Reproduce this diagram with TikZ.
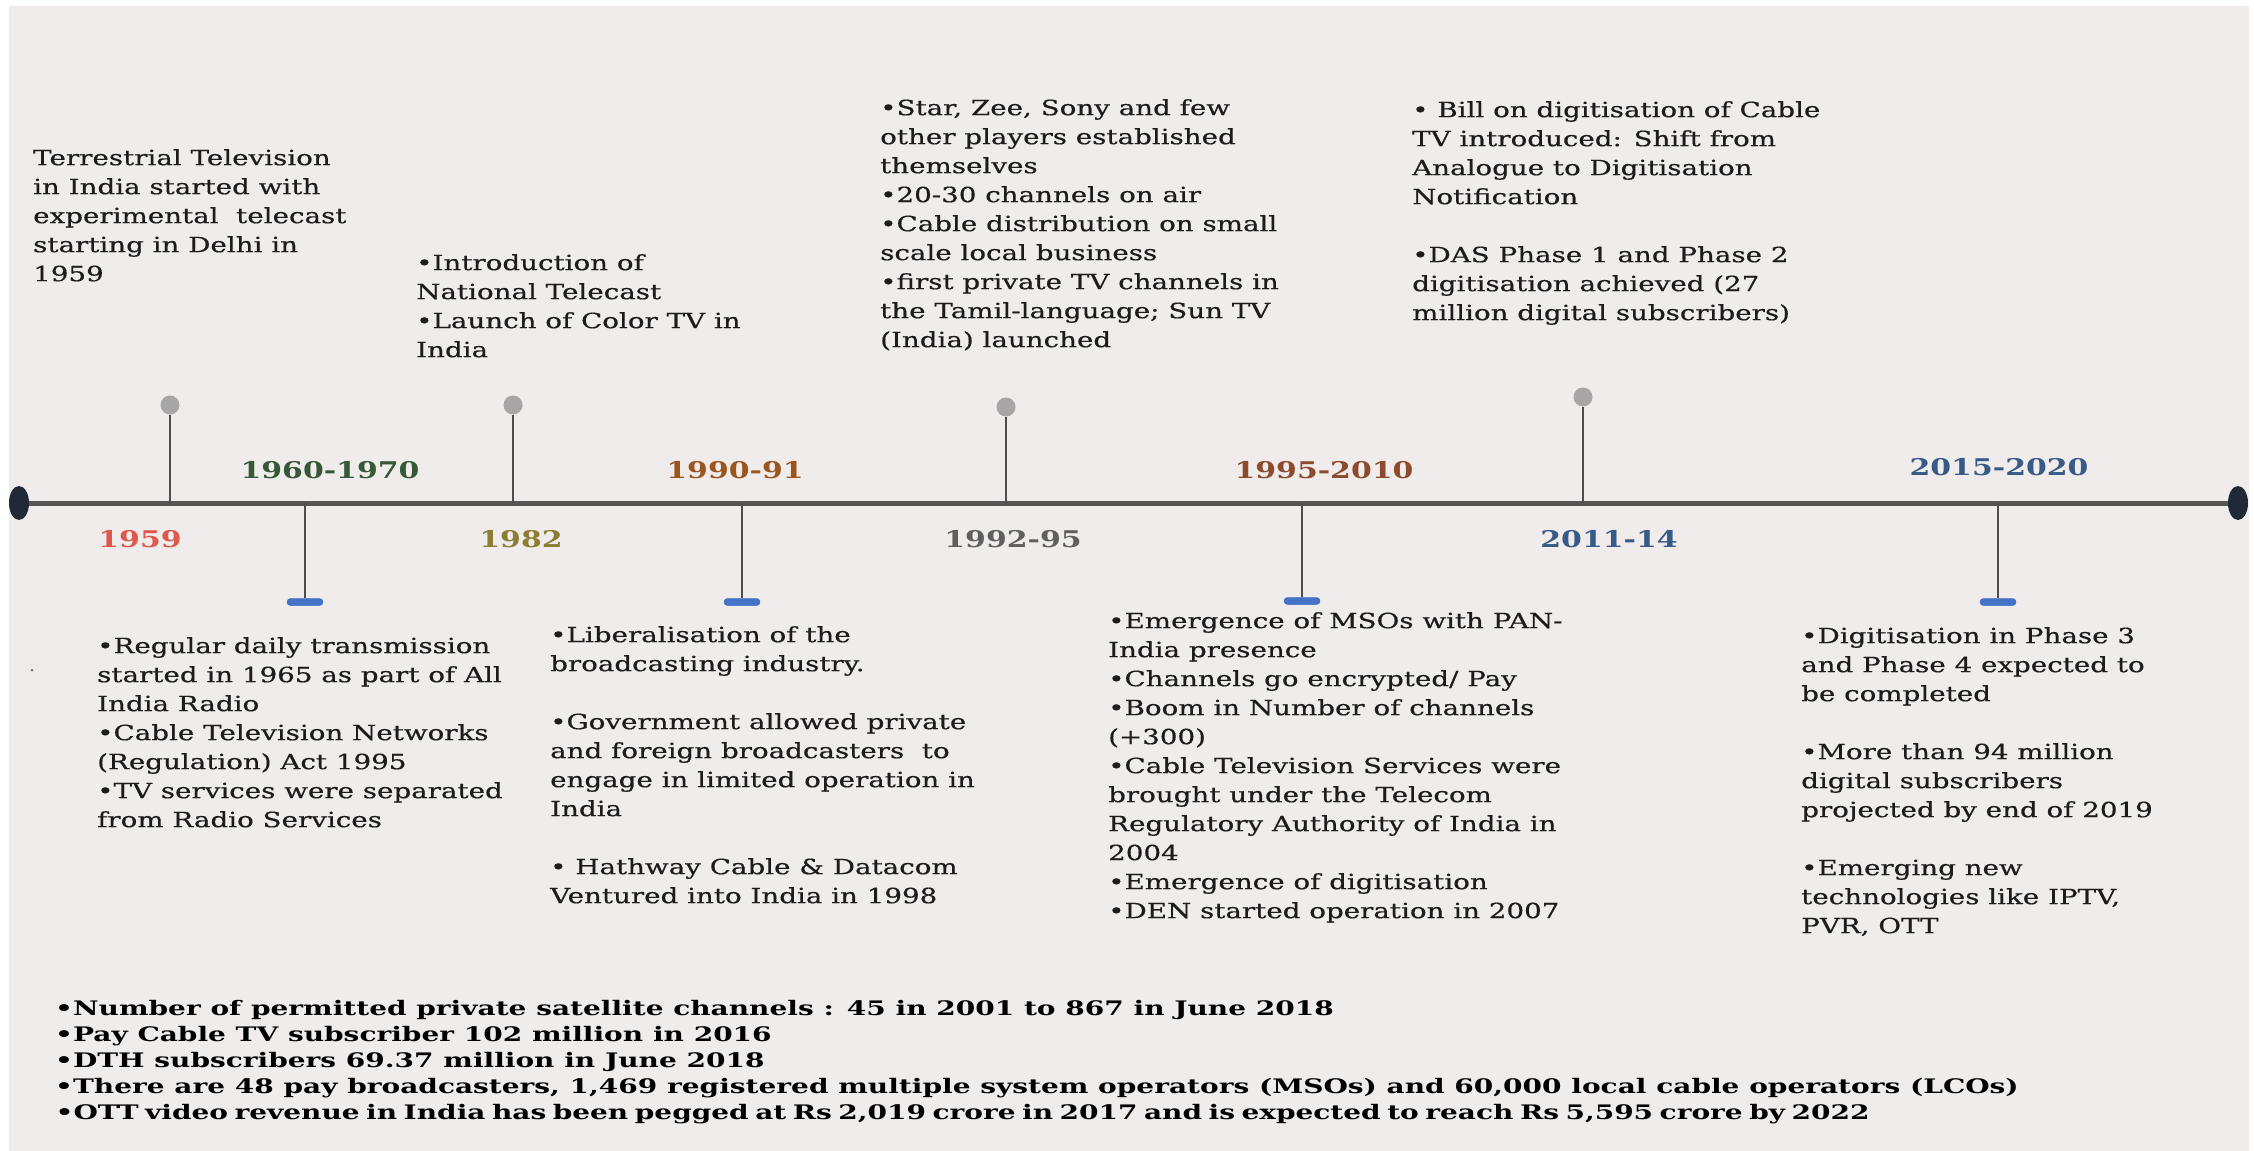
\documentclass[tikz,border=0pt]{standalone}
\usepackage{fontspec}
\setmainfont{DejaVu Serif}
\newfontfamily\tlfont[FakeStretch=1.32,FakeBold=0.5]{DejaVu Serif}
\newfontfamily\yrfont[FakeStretch=1.3]{DejaVu Serif}
\newfontfamily\botfont[FakeStretch=1.40]{DejaVu Serif}
\usetikzlibrary{shapes.geometric}
\definecolor{bgc}{RGB}{240,236,236}
\definecolor{txt}{RGB}{28,28,28}
\definecolor{axisc}{RGB}{85,85,85}
\definecolor{stemc}{RGB}{77,77,77}
\definecolor{pinc}{RGB}{166,166,166}
\definecolor{dashc}{RGB}{68,114,196}
\definecolor{capc}{RGB}{31,42,54}
\definecolor{cyA}{RGB}{224,87,76}
\definecolor{cyB}{RGB}{55,88,55}
\definecolor{cyC}{RGB}{140,125,50}
\definecolor{cyD}{RGB}{155,85,30}
\definecolor{cyE}{RGB}{95,95,95}
\definecolor{cyF}{RGB}{140,75,45}
\definecolor{cyG}{RGB}{55,90,135}
\tikzset{
  body/.style={anchor=north west, inner sep=0pt, align=left, text=txt,
    font=\tlfont\fontsize{21}{29}\selectfont},
  yearlbl/.style={anchor=base, inner sep=0pt,
    font=\yrfont\bfseries\fontsize{23}{27}\selectfont},
  bottxt/.style={anchor=base west, inner sep=0pt, text=black,
    font=\botfont\bfseries\fontsize{20}{26}\selectfont},
  uppin/.style={circle, fill=pinc, minimum size=19pt, inner sep=0pt},
  downpin/.style={rectangle, rounded corners=3.5pt, fill=dashc,
    minimum width=36pt, minimum height=7pt, inner sep=0pt},
  stemline/.style={draw=stemc, line width=2.5pt},
  axisline/.style={draw=axisc, line width=5pt},
  endcap/.style={ellipse, fill=capc, minimum width=20pt, minimum height=34pt, inner sep=0pt},
}
\newlength\lfour
\begin{document}
\begin{tikzpicture}[x=1pt,y=-1pt]
\useasboundingbox (0,0) rectangle (2254,1151);
\fill[white] (0,0) rectangle (2254,1151);
\fill[bgc] (9,6) rectangle (2249,1151);

% timeline
\node[endcap] (capL) at (19,503) {};
\node[endcap] (capR) at (2238,503) {};
\draw[axisline] (capL.east) -- (capR.west);

% up pins
\node[uppin] (u1) at (170,405) {};
\node[uppin] (u2) at (513,405) {};
\node[uppin] (u3) at (1006,407) {};
\node[uppin] (u4) at (1583,397) {};
\foreach \p in {u1,u2,u3,u4}{\draw[stemline] (\p.south) -- (\p.south |- capL.center);}

% down pins
\node[downpin] (d1) at (305,602) {};
\node[downpin] (d2) at (742,602) {};
\node[downpin] (d3) at (1302,601) {};
\node[downpin] (d4) at (1998,602) {};
\foreach \p in {d1,d2,d3,d4}{\draw[stemline] (\p.center |- capL.center) -- (\p.north);}
\foreach \p in {d1,d2,d3,d4}{\fill[dashc, rounded corners=3.5pt] (\p.south west) rectangle (\p.north east);}

% year labels
\node[yearlbl, text=cyA] (y1) at (140,547) {1959};
\node[yearlbl, text=cyB] (y2) at (330,478) {1960-1970};
\node[yearlbl, text=cyC] (y3) at (521,547) {1982};
\node[yearlbl, text=cyD] (y4) at (735,478) {1990-91};
\node[yearlbl, text=cyE] (y5) at (1013,547) {1992-95};
\node[yearlbl, text=cyF] (y6) at (1324,478) {1995-2010};
\node[yearlbl, text=cyG] (y7) at (1609,547) {2011-14};
\node[yearlbl, text=cyG] (y8) at (1999,475) {2015-2020};

% upper texts
\node[body] (tA) at (33,149) {Terrestrial Television\\in India started with\\experimental\ \ telecast\\starting in Delhi in\\1959};
\node[body] (tB) at (416,254) {•Introduction of\\National Telecast\\•Launch of Color TV in\\India};
\node[body] (tC) at (880,99) {•Star, Zee, Sony and few\\other players established\\themselves\\•20-30 channels on air\\•Cable distribution on small\\scale local business\\•first private TV channels in\\the Tamil-language; Sun TV\\(India) launched};
\node[body] (tD) at (1412,101) {• Bill on digitisation of Cable\\TV introduced: Shift from\\Analogue to Digitisation\\Notification\\[29pt]•DAS Phase 1 and Phase 2\\digitisation achieved (27\\million digital subscribers)};

% lower texts
\node[body] (tE) at (97,637) {•Regular daily transmission\\started in 1965 as part of All\\India Radio\\•Cable Television Networks\\(Regulation) Act 1995\\•TV services were separated\\from Radio Services};
\node[body] (tF) at (550,626) {•Liberalisation of the\\broadcasting industry.\\[29pt]•Government allowed private\\and foreign broadcasters\ \ to\\engage in limited operation in\\India\\[29pt]• Hathway Cable \& Datacom\\Ventured into India in 1998};
\node[body] (tG) at (1108,612) {•Emergence of MSOs with PAN-\\India presence\\•Channels go encrypted/ Pay\\•Boom in Number of channels\\(+300)\\•Cable Television Services were\\brought under the Telecom\\Regulatory Authority of India in\\2004\\•Emergence of digitisation\\•DEN started operation in 2007};
\node[body] (tH) at (1801,627) {•Digitisation in Phase 3\\and Phase 4 expected to\\be completed\\[29pt]•More than 94 million\\digital subscribers\\projected by end of 2019\\[29pt]•Emerging new\\technologies like IPTV,\\PVR, OTT};

% stray dot
\fill[txt!60] (32,670) circle (1.5);

% bottom facts
\settowidth\lfour{\botfont\bfseries\fontsize{20}{26}\selectfont •There are 48 pay broadcasters, 1,469 registered multiple system operators (MSOs) and 60,000 local cable operators (LCOs)}
\node[bottxt] (b1) at (55,1015) {•Number of permitted private satellite channels : 45 in 2001 to 867 in June 2018};
\node[bottxt] (b2) at (55,1041) {•Pay Cable TV subscriber 102 million in 2016};
\node[bottxt] (b3) at (55,1067) {•DTH subscribers 69.37 million in June 2018};
\node[bottxt] (b4) at (55,1093) {•There are 48 pay broadcasters, 1,469 registered multiple system operators (MSOs) and 60,000 local cable operators (LCOs)};
\node[bottxt] (b5) at (55,1119) {\makebox[\lfour][s]{•OTT video revenue in India has been pegged at Rs 2,019 crore in 2017 and is expected to reach Rs 5,595 crore by 2022}};
\end{tikzpicture}
\end{document}
